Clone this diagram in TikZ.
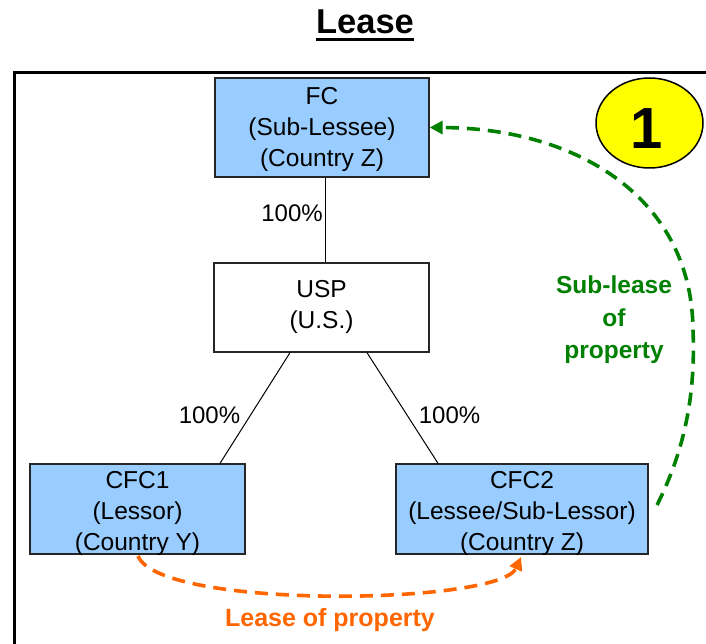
\documentclass[tikz,border=0pt]{standalone}
\usepackage{fontspec}
\setmainfont{Liberation Sans}
\usetikzlibrary{arrows.meta,shapes.geometric}
\definecolor{boxblue}{HTML}{99CCFF}
\definecolor{dgreen}{HTML}{008000}
\definecolor{lorange}{HTML}{FF6600}
\definecolor{cyellow}{HTML}{FFFF00}
\tikzset{
  entity/.style={draw=black!85, line width=1.3pt, rectangle, inner sep=0pt},
  boxtext/.style={align=center, inner sep=0pt, font=\fontsize{24.5}{31}\selectfont},
  pct/.style={inner sep=0pt, font=\fontsize{24}{24}\selectfont},
  tie/.style={draw=black, line width=1pt},
  flow/.style={line width=3.6pt, dash pattern=on 13pt off 8pt, -{Triangle[length=13pt,width=13pt]}},
}
\begin{document}
\begin{tikzpicture}[x=1pt,y=-1pt]
\useasboundingbox (0,0) rectangle (706,644);
% title
\node[anchor=base, inner sep=0pt, font=\bfseries\fontsize{34.5}{34.5}\selectfont] (title) at (365,33.3) {Lease};
\draw[line width=3pt] ([yshift=-6.5pt]title.base west) -- ([yshift=-6.5pt]title.base east);
% frame
\draw[line width=3pt] (14,648) -- (14,72.5) -- (710,72.5);
% boxes
\node[entity, fill=boxblue, minimum width=214pt, minimum height=99pt] (fc) at (322,127.5) {};
\node[entity, fill=white, minimum width=215pt, minimum height=89pt] (usp) at (321.5,307.5) {};
\node[entity, fill=boxblue, minimum width=215pt, minimum height=90pt] (cfc1) at (137.5,509) {};
\node[entity, fill=boxblue, minimum width=252pt, minimum height=90pt] (cfc2) at (522,509) {};
\node[boxtext] (fct) at (322,129) {FC\\(Sub-Lessee)\\(Country Z)};
\node[boxtext] (uspt) at (321.5,307) {USP\\(U.S.)};
\node[boxtext] (cfc1t) at (137.5,513) {CFC1\\(Lessor)\\(Country Y)};
\node[boxtext] (cfc2t) at (522,513) {CFC2\\(Lessee/Sub-Lessor)\\(Country Z)};
% ownership lines
\draw[tie] ([xshift=3pt]fc.south) -- ([xshift=3.5pt]usp.north);
\draw[tie] ([xshift=-31.5pt]usp.south) -- ([xshift=82.5pt]cfc1.north);
\draw[tie] ([xshift=45.5pt]usp.south) -- ([xshift=-84pt]cfc2.north);
\node[pct] (p1) at (292,213) {100\%};
\node[pct] (p2) at (209.5,415) {100\%};
\node[pct] (p3) at (449.5,415) {100\%};
% circle
\node[ellipse, draw=black, line width=1.5pt, fill=cyellow, minimum width=107pt, minimum height=90pt, inner sep=0pt] (one) at (649.5,123) {};
\node[inner sep=0pt, font=\bfseries\fontsize{58}{58}\selectfont] (onet) at (646.5,128.5) {1};
% sub-lease arrow
\coordinate (gs) at (657,505);
\coordinate (gm) at (693,330);
\draw[flow, dgreen] (gs) .. controls (690,440) and (695,380) .. (gm)
  .. controls (692,200) and (580,128) .. (fc.east);
\node[align=center, inner sep=0pt, text=dgreen, font=\bfseries\fontsize{24.5}{32.5}\selectfont] (subl) at (614,320) {Sub-lease\\of\\property};
% lease arrow
\coordinate (os) at (138,556);
\coordinate (oe) at (521,557);
\draw[flow, lorange] (os) .. controls (160,610) and (500,605) .. (oe);
\node[inner sep=0pt, text=lorange, font=\bfseries\fontsize{25}{25}\selectfont] (leasel) at (330,620) {Lease of property};
\end{tikzpicture}
\end{document}
